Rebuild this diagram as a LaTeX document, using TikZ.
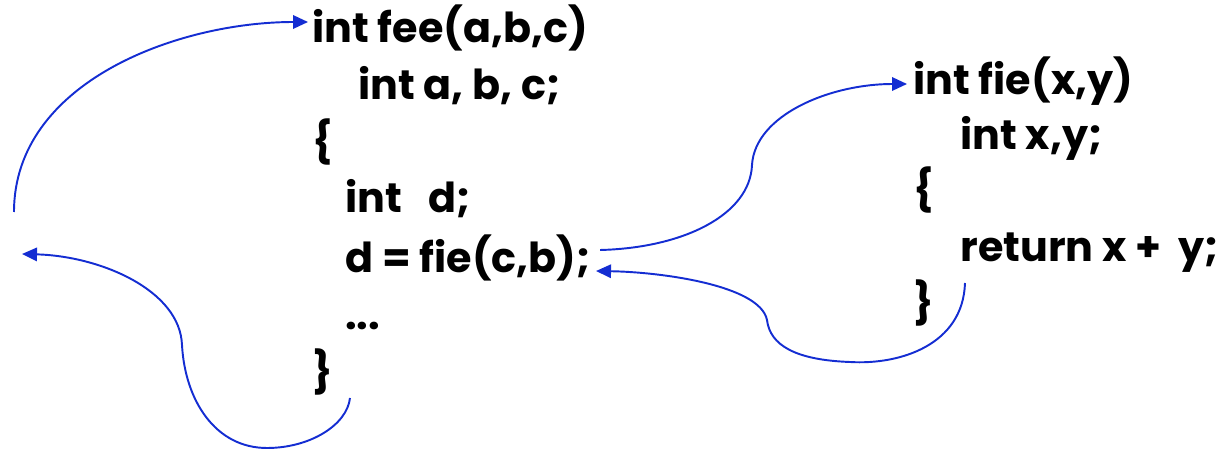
\documentclass[tikz,border=0pt]{standalone}
\usepackage{fontspec}
\setmainfont{Poppins}
\usetikzlibrary{arrows.meta}
\definecolor{callblue}{RGB}{20,45,210}

\begin{document}
\begin{tikzpicture}[x=0.02cm, y=-0.02cm,
  code/.style={anchor=base west, inner sep=0pt,
    font=\fontsize{23.5}{28}\selectfont\bfseries},
  flow/.style={-{Triangle[length=0.3cm, width=0.27cm]}, line width=1.1pt, draw=callblue},
]
\useasboundingbox (0,0) rectangle (1232,449);

%% Caller fee
\node[code] (feehead)  at (312,43)  {int fee(a,b,c)};
\node[code] (feedecl)  at (358,100) {int a, b, c;};
\node[code] (feeopen)  at (312,157) {\{};
\node[code] (feevar)   at (345,213) {int\ \ \ d;};
\node[code] (feecall)  at (345,273) {d = fie(c,b);};
\node[code] (feedots)  at (345,330) {...};
\node[code] (feeclose) at (312,387) {\}};

%% Callee fie
\node[code] (fiehead)  at (913,95)  {int fie(x,y)};
\node[code] (fiedecl)  at (960,150) {int x,y;};
\node[code] (fieopen)  at (913,205) {\{};
\node[code] (fieret)   at (960,262) {return x +\ \ y;};
\node[code] (fieclose) at (913,318) {\}};

%% Outside caller
\coordinate (outcall) at (14,212);
\coordinate (outback) at (22,254);

%% Control flow
% call fee
\draw[flow] (outcall) .. controls +(0,-130) and +(-130,0) .. ([shift={(-4,-21)}]feehead.base west);
% call fie
\draw[flow] ([shift={(9,-23)}]feecall.base east)
  .. controls +(83,-2) and (750,215) .. (752,165)
  .. controls (755,115) and (830,84) .. ([shift={(-6,-11)}]fiehead.base west);
% return from fie
\draw[flow] ([shift={(5,21)}]fieret.base west)
  .. controls +(-2,62) and (900,365) .. (850,362)
  .. controls (795,360) and (770,345) .. (767,320)
  .. controls (760,285) and (660,272) .. ([shift={(5,-2)}]feecall.base east);
% return from fee
\draw[flow] ([shift={(38,11)}]feeclose.base west)
  .. controls +(-3,27) and (310,448) .. (267,448)
  .. controls (215,448) and (185,400) .. (182,345)
  .. controls (180,290) and (100,256) .. (outback);

\end{tikzpicture}
\end{document}
